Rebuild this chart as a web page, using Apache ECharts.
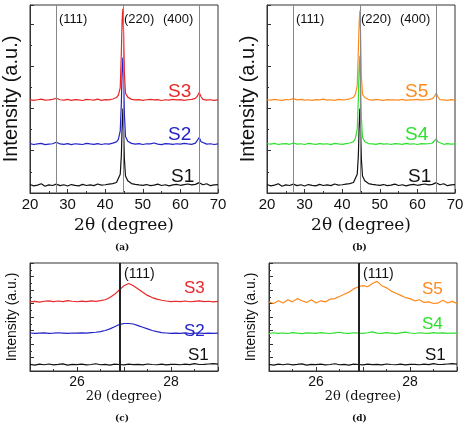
<!DOCTYPE html>
<html>
<head>
<meta charset="utf-8">
<script src="https://cdn.jsdelivr.net/npm/echarts@6/dist/echarts.min.js"></script>
<style>
  html, body { margin: 0; padding: 0; background: #fff; }
  #chart { width: 474px; height: 429px; }
</style>
</head>
<body>
<div id="chart"></div>
<script>
// wide scans (a), (b)
const wideX = [20,21,22,23,24,25,26,27,28,29,30,31,32,33,34,35,36,37,38,39,40,41,42,43,
  43.5,44,44.3,44.5,44.7,44.9,45.1,45.4,46,46.5,
  47,48,49,50,51,52,53,54,55,56,57,58,59,60,61,62,63,64,
  64.5,65,65.5,
  66,67,68,69,70];
const wideS1 = [4.5,3.8,4.2,4.9,3.6,4.3,4.0,4.7,3.9,4.4,3.7,4.5,4.1,3.8,4.6,4.0,4.3,3.9,4.8,4.2,4.4,4.7,5.0,5.6,
  6.5,10,20,35,45,33,18,9,6.5,5.5,
  5.0,4.6,4.3,4.1,4.5,3.9,4.2,4.7,4.0,4.4,3.8,4.3,4.6,4.1,4.5,4.8,4.3,4.6,
  5.2,5.5,5.0,
  4.4,4.9,3.9,4.3,4.5];
const wideS2 = [26.3,25.8,26.1,26.4,25.7,26.0,26.2,27.0,26.1,25.9,26.3,25.7,26.2,26.0,25.8,26.4,26.1,25.9,26.3,25.8,26.2,26.0,26.5,27.2,
  28.5,33,48,65,72,60,42,30,27.5,26.8,
  26.4,26.0,26.3,25.8,26.2,26.1,26.6,26.0,25.7,26.3,26.1,25.9,26.2,26.0,26.4,26.1,25.9,26.5,
  27.5,29.5,27.3,
  26.3,26.0,26.2,25.8,26.1];
const wideS3 = [49.7,49.3,49.6,49.9,49.4,49.5,49.8,50.4,49.6,49.4,49.8,49.3,49.7,49.5,49.2,49.8,49.6,49.4,49.9,49.3,49.7,49.5,50.0,50.8,
  52,56,75,92,98,85,64,53,51,50.2,
  49.8,49.5,49.7,49.3,49.6,49.8,49.5,49.7,49.2,49.6,49.4,49.8,49.5,49.7,49.3,49.6,49.8,50.3,
  51.5,53.5,51.2,
  49.8,49.4,49.6,49.3,49.5];
const wideS4 = [26.2,26.0,26.4,25.8,26.1,26.3,25.9,26.6,26.0,26.2,25.8,26.4,26.1,25.9,26.3,26.0,26.2,25.7,26.4,26.1,25.9,26.3,26.6,27.3,
  29,34,50,66,73,58,40,29.5,27.3,26.7,
  26.3,26.1,25.9,26.4,26.0,26.2,25.8,26.3,26.1,25.9,26.4,26.0,26.2,25.8,26.3,26.1,26.2,26.6,
  27.4,28.8,27.1,
  26.2,25.9,26.3,26.0,26.1];
const wideS5 = [49.6,49.4,49.8,49.5,49.3,49.7,49.6,50.2,49.5,49.8,49.4,49.6,49.3,49.7,49.5,49.9,49.4,49.6,49.3,49.8,49.5,49.7,50.1,50.9,
  52.5,57,76,90,97,84,62,52.5,50.8,50.1,
  49.7,49.4,49.8,49.5,49.3,49.7,49.5,49.6,49.4,49.8,49.3,49.6,49.5,49.8,49.4,49.6,49.7,50.2,
  51.3,53,51.0,
  49.6,49.5,49.3,49.7,49.4];
const wideLines = [27, 44.7, 65];

// zoomed (111) scans (c), (d)
const zoomX = [25.0,25.1,25.2,25.3,25.4,25.5,25.6,25.7,25.8,25.9,26.0,
  26.1,26.2,26.3,26.4,26.5,26.6,26.7,26.8,26.9,27.0,
  27.1,27.2,27.3,27.4,27.5,27.6,27.7,27.8,27.9,28.0,
  28.1,28.2,28.3,28.4,28.5,28.6,28.7,28.8,28.9,29.0];
const zoomS1 = [6.2,5.4,6.3,5.8,6.5,5.7,6.1,6.6,5.5,6.2,5.9,
  6.4,5.6,6.0,6.7,5.8,6.2,5.5,6.3,6.0,5.7,
  6.4,5.9,6.1,5.6,6.5,6.0,5.8,6.3,5.7,6.2,
  6.1,5.8,6.4,5.9,6.9,6.0,6.2,6.5,6.8,6.3];
const zoomS2 = [35.2,34.8,35.1,35.3,34.9,35.0,35.4,35.1,34.8,35.2,35.0,
  35.3,35.1,35.6,35.9,36.4,37.5,39,41,43,44,
  44,43.5,42,40.5,39,37.5,36.5,35.6,35.2,34.8,
  35.1,34.9,35.3,34.7,35.0,35.2,34.8,35.1,34.9,35.0];
const zoomS3 = [64,64.5,63.8,64.6,65,64.2,64.8,64.3,65.2,64.6,64.1,
  64.7,64.3,64.9,64.5,65.1,66,68,71,75,79,
  81,79,76,73,70,68,66.5,65.5,64.8,64.3,
  64.6,64.2,64.8,64.1,64.5,64.9,64.2,64.6,64.0,64.4];
const zoomS4 = [34.6,35.4,34.8,35.2,34.7,35.5,35.0,34.6,35.3,35.1,34.8,
  35.6,35.0,34.7,35.3,35.9,35.1,34.8,35.4,35.0,34.9,
  35.4,36.2,35.0,34.8,35.5,35.1,34.6,35.3,36.0,35.2,
  34.7,35.4,35.0,34.8,35.6,35.1,35.3,34.9,35.2,35.0];
const zoomS5 = [64,62.5,65,63,66,64,67,65,63.5,66,63,
  65,64,66.5,67,69,71,73,76,78,79,
  78,81,83,79,77,74,72,70,68,67,
  65,66,63.5,64,62.5,63,65.5,63,64.5,62.5];
const zoomLine = 26.9;

const C = { S1: "#111", S2: "#2323c8", S3: "#e82828", S4: "#2ee02e", S5: "#ff8a1c" };
const FONT = "Liberation Sans";

const chart = echarts.init(document.getElementById("chart"));

function pairs(xs, ys) { return xs.map((x, i) => [x, ys[i]]); }

const grids = [
  { left: 30, top: 5, width: 188, height: 188 },
  { left: 267, top: 5, width: 188, height: 188 },
  { left: 30, top: 263, width: 188, height: 108 },
  { left: 269, top: 263, width: 188, height: 108 },
].map(g => Object.assign({ show: true, borderColor: "#333", borderWidth: 1, outerBoundsMode: "none", containLabel: false }, g));

function xAx(i, wide) {
  return {
    gridIndex: i, type: "value",
    min: wide ? 20 : 25, max: wide ? 70 : 29, interval: wide ? 10 : 1,
    name: "2θ (degree)", nameLocation: "middle", nameGap: wide ? 24 : 17,
    nameTextStyle: { fontFamily: "DejaVu Serif", fontSize: wide ? 17 : 13, color: "#111" },
    axisLine: { lineStyle: { color: "#333" } },
    axisTick: { inside: true, length: 4, lineStyle: { color: "#333" } },
    minorTick: { show: true, splitNumber: 2, length: 2, lineStyle: { color: "#333" } },
    axisLabel: {
      fontFamily: FONT, fontSize: wide ? 15 : 14, color: "#111", margin: 4,
      formatter: v => (wide || v % 2 === 0) ? String(v) : "",
    },
    splitLine: { show: false },
  };
}
function yAx(i, wide) {
  return {
    gridIndex: i, type: "value", min: 0, max: 100, interval: wide ? 22.5 : 12.5,
    name: "Intensity (a.u.)", nameLocation: "middle", nameGap: wide ? 9 : 11,
    nameTextStyle: { fontFamily: FONT, fontSize: wide ? 20 : 14, color: "#111" },
    axisLine: { lineStyle: { color: "#333" } },
    axisTick: { inside: true, length: 4, lineStyle: { color: "#333" } },
    minorTick: { show: true, splitNumber: 2, length: 2, lineStyle: { color: "#333" } },
    axisLabel: { show: false },
    splitLine: { show: false },
  };
}

function line(i, name, xs, ys, withMark) {
  const s = {
    type: "line", name, xAxisIndex: i, yAxisIndex: i,
    data: pairs(xs, ys), showSymbol: false, symbol: "none",
    lineStyle: { color: C[name], width: 1.2 }, z: 3,
  };
  if (withMark) s.markLine = withMark;
  return s;
}

const wideMark = {
  silent: true, symbol: "none", label: { show: false },
  lineStyle: { color: "#888", width: 1, type: "solid" },
  data: wideLines.map(v => ({ xAxis: v })),
};
const zoomMark = {
  silent: true, symbol: "none", label: { show: false },
  lineStyle: { color: "#222", width: 2, type: "solid" },
  data: [{ xAxis: zoomLine }],
};

function txt(x, y, text, color, size, family, weight) {
  return { type: "text", left: x, top: y,
    style: { text, fill: color, fontSize: size, fontFamily: family || FONT, fontWeight: weight || "normal" } };
}

chart.setOption({
  animation: false,
  grid: grids,
  xAxis: [xAx(0, true), xAx(1, true), xAx(2, false), xAx(3, false)],
  yAxis: [yAx(0, true), yAx(1, true), yAx(2, false), yAx(3, false)],
  series: [
    line(0, "S1", wideX, wideS1, wideMark),
    line(0, "S2", wideX, wideS2),
    line(0, "S3", wideX, wideS3),
    line(1, "S1", wideX, wideS1, wideMark),
    line(1, "S4", wideX, wideS4),
    line(1, "S5", wideX, wideS5),
    line(2, "S1", zoomX, zoomS1, zoomMark),
    line(2, "S2", zoomX, zoomS2),
    line(2, "S3", zoomX, zoomS3),
    line(3, "S1", zoomX, zoomS1, zoomMark),
    line(3, "S4", zoomX, zoomS4),
    line(3, "S5", zoomX, zoomS5),
  ],
  graphic: [
    txt(59, 13, "(111)", "#111", 13), txt(124, 13, "(220)", "#111", 13), txt(163, 13, "(400)", "#111", 13),
    txt(296, 13, "(111)", "#111", 13), txt(361, 13, "(220)", "#111", 13), txt(400, 13, "(400)", "#111", 13),
    txt(168, 82, "S3", C.S3, 19), txt(168, 125, "S2", C.S2, 19), txt(171, 167, "S1", C.S1, 19),
    txt(405, 82, "S5", C.S5, 19), txt(405, 125, "S4", C.S4, 19), txt(408, 167, "S1", C.S1, 19),
    txt(124, 267, "(111)", "#111", 14), txt(363, 267, "(111)", "#111", 14),
    txt(184, 280, "S3", C.S3, 17), txt(184, 323, "S2", C.S2, 17), txt(188, 347, "S1", C.S1, 17),
    txt(422, 281, "S5", C.S5, 17), txt(422, 316, "S4", C.S4, 17), txt(425, 347, "S1", C.S1, 17),
    txt(115, 243, "(a)", "#111", 9, "DejaVu Serif", "bold"), txt(352, 243, "(b)", "#111", 9, "DejaVu Serif", "bold"),
    txt(115, 414, "(c)", "#111", 9, "DejaVu Serif", "bold"), txt(352, 414, "(d)", "#111", 9, "DejaVu Serif", "bold"),
  ],
});
</script>
</body>
</html>
